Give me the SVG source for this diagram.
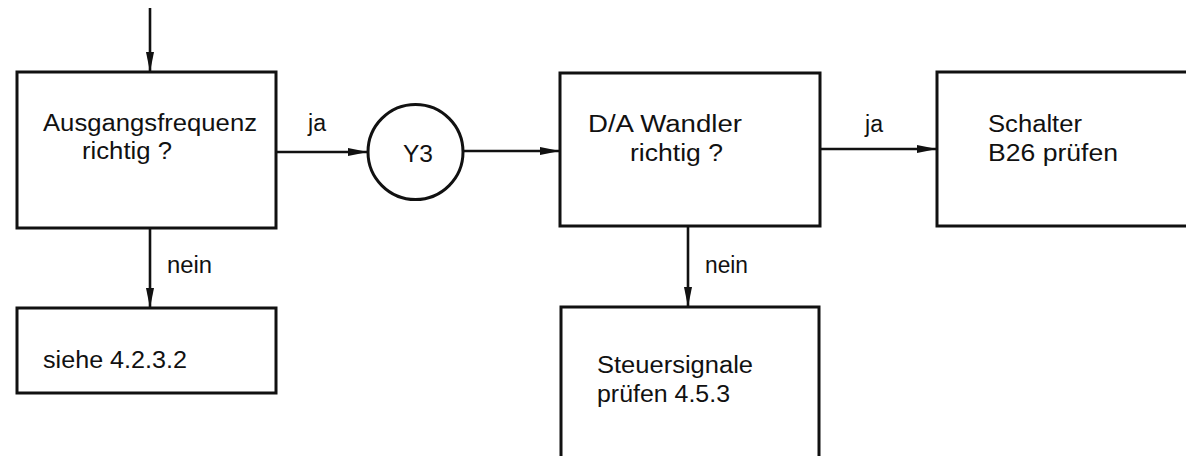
<svg xmlns="http://www.w3.org/2000/svg" width="1186" height="456" viewBox="0 0 1186 456">
<style>
.box{fill:none;stroke:#111;stroke-width:3}
.ln{fill:none;stroke:#111;stroke-width:2.6}
text{font-family:"Liberation Sans","DejaVu Sans",sans-serif;font-size:23px;fill:#111}
</style>
<defs>
<marker id="ah" markerUnits="userSpaceOnUse" markerWidth="20" markerHeight="10" refX="20" refY="5" orient="auto">
<path d="M0,1 L20,5 L0,9 Z" fill="#111"/>
</marker>
</defs>
<rect width="1186" height="456" fill="#fff"/>
<g id="connectors">
<line class="ln" x1="150" y1="8" x2="150" y2="72" marker-end="url(#ah)"/>
<line class="ln" x1="276" y1="152" x2="368" y2="152" marker-end="url(#ah)"/>
<line class="ln" x1="463" y1="151" x2="560" y2="151" marker-end="url(#ah)"/>
<line class="ln" x1="820" y1="149" x2="937" y2="149" marker-end="url(#ah)"/>
<line class="ln" x1="150" y1="228" x2="150" y2="308" marker-end="url(#ah)"/>
<line class="ln" x1="688" y1="226" x2="688" y2="307" marker-end="url(#ah)"/>
<text x="308" y="131" textLength="18" lengthAdjust="spacingAndGlyphs">ja</text>
<text x="865" y="132" textLength="18" lengthAdjust="spacingAndGlyphs">ja</text>
<text x="167" y="273" textLength="45" lengthAdjust="spacingAndGlyphs">nein</text>
<text x="705" y="273" textLength="43" lengthAdjust="spacingAndGlyphs">nein</text>
</g>
<g id="n1">
<rect class="box" x="17" y="72" width="259" height="156"/>
<text x="43" y="131" textLength="214" lengthAdjust="spacingAndGlyphs">Ausgangsfrequenz</text>
<text x="82" y="159" textLength="90" lengthAdjust="spacingAndGlyphs">richtig ?</text>
</g>
<g id="y3">
<circle class="box" cx="415.5" cy="152" r="47.5"/>
<text x="403" y="162" textLength="30" lengthAdjust="spacingAndGlyphs" style="font-size:24px">Y3</text>
</g>
<g id="n2">
<rect class="box" x="560" y="73" width="260" height="153"/>
<text x="588" y="132" textLength="154" lengthAdjust="spacingAndGlyphs">D/A Wandler</text>
<text x="630" y="161" textLength="93" lengthAdjust="spacingAndGlyphs">richtig ?</text>
</g>
<g id="n3">
<rect class="box" x="937" y="72" width="260" height="154"/>
<text x="988" y="132" textLength="94" lengthAdjust="spacingAndGlyphs">Schalter</text>
<text x="988" y="161" textLength="130" lengthAdjust="spacingAndGlyphs">B26 prüfen</text>
</g>
<g id="n4">
<rect class="box" x="17" y="308" width="259" height="85"/>
<text x="43" y="368" textLength="144" lengthAdjust="spacingAndGlyphs">siehe 4.2.3.2</text>
</g>
<g id="n5">
<rect class="box" x="561" y="307" width="258" height="160"/>
<text x="597" y="373" textLength="156" lengthAdjust="spacingAndGlyphs">Steuersignale</text>
<text x="597" y="402" textLength="133" lengthAdjust="spacingAndGlyphs">prüfen 4.5.3</text>
</g>
</svg>
